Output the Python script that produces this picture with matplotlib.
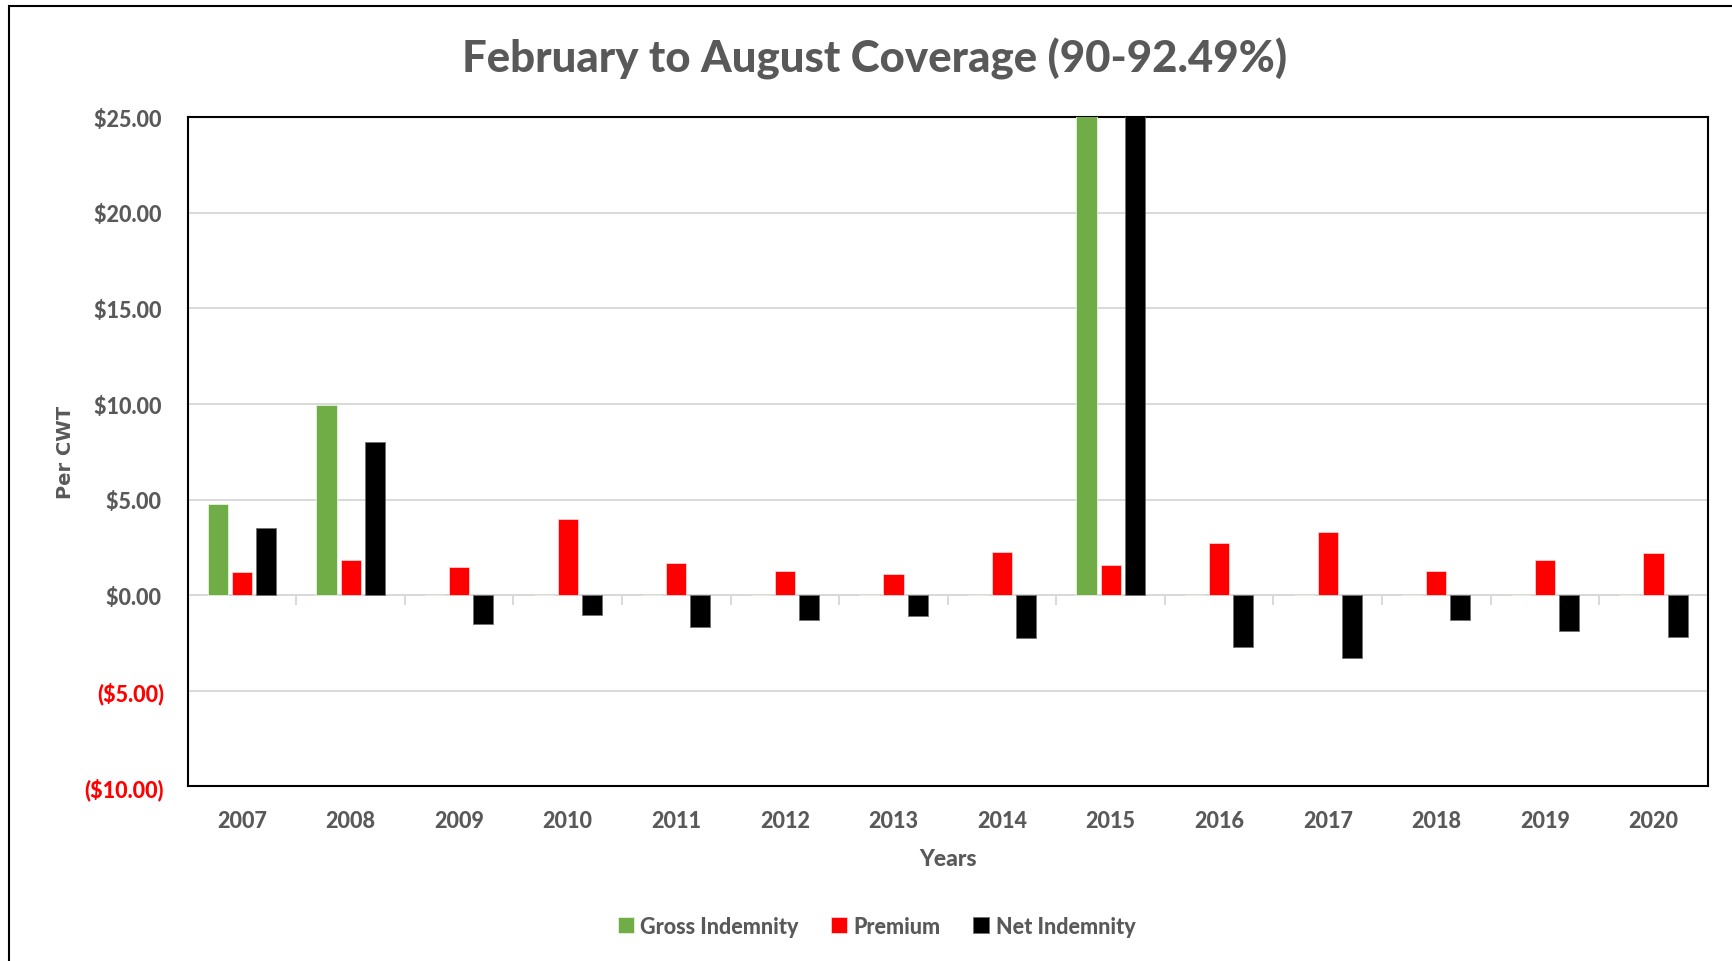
import numpy as np
import matplotlib.pyplot as plt
from matplotlib.patches import Rectangle

years = ["2007", "2008", "2009", "2010", "2011", "2012", "2013",
         "2014", "2015", "2016", "2017", "2018", "2019", "2020"]
gross = [4.79, 9.93, 0, 0, 0, 0, 0, 0, 27.30, 0, 0, 0, 0, 0]
premium = [1.21, 1.85, 1.50, 3.98, 1.67, 1.27, 1.10, 2.25, 1.60, 2.71, 3.29, 1.27, 1.85, 2.19]
net = [3.52, 8.03, -1.50, -1.04, -1.67, -1.27, -1.10, -2.25, 25.70, -2.71, -3.29, -1.27, -1.85, -2.19]
yticks = [-10, -5, 0, 5, 10, 15, 20, 25]

grey = "#595959"
bold = 900
plt.rcParams['font.family'] = ['Lato', 'DejaVu Sans']

fig = plt.figure(figsize=(17.32, 9.62), dpi=100)
ax = fig.add_axes([0.1084, 0.1814, 0.8776, 0.6958])

x = np.arange(len(years))
w = 0.185
off = 0.222
ax.bar(x - off, gross, w, color="#70AD47", edgecolor="#E8F2E0", linewidth=0.6, label="Gross Indemnity", zorder=3)
ax.bar(x, premium, w, color="#FF0000", edgecolor="#FFD0D0", linewidth=0.6, label="Premium", zorder=3)
ax.bar(x + off, net, w, color="#000000", edgecolor="#707070", linewidth=0.6, label="Net Indemnity", zorder=3)

ax.set_xlim(-0.5, len(years) - 0.5)
ax.set_ylim(-10, 25)
ax.set_yticks(yticks)
# accounting style: positives leave room for the closing bracket
ax.set_yticklabels(["($%.2f)" % -v if v < 0 else "$%.2f\u2009" % v for v in yticks])
for lab, v in zip(ax.get_yticklabels(), yticks):
    lab.set_color("#FF0000" if v < 0 else grey)
    lab.set_fontweight(bold)
    lab.set_fontsize(15.5)
ax.set_xticks(x)
ax.set_xticklabels(years, fontsize=15.5, fontweight=bold, color=grey)
ax.tick_params(axis="x", length=0, pad=17)
ax.tick_params(axis="y", length=0, pad=17)
ax.grid(axis="y", color="#D9D9D9", linewidth=1.4, zorder=0)
for s in ax.spines.values():
    s.set_color("black")
    s.set_linewidth(1.5)

# category axis at zero with boundary ticks
zero_pos = (0 - (-10)) / 35.0
sec = ax.secondary_xaxis(zero_pos)
sec.set_xticks(np.arange(len(years) + 1) - 0.5)
sec.set_xticklabels([])
sec.tick_params(axis="x", color="#D9D9D9", length=7, width=1.4, direction="out")
sec.spines["bottom"].set_color("#D9D9D9")
sec.spines["bottom"].set_linewidth(1.4)

ax.set_xlabel("Years", fontsize=16.5, fontweight=bold, color=grey, labelpad=12)
ax.set_ylabel("Per CWT", fontsize=14, fontweight="bold", color=grey,
              family=["DejaVu Sans"], labelpad=7)

fig.text(0.505, 0.939, "February to August Coverage (90-92.49%)", ha="center", va="center",
         fontsize=31.5, fontweight=bold, color=grey)

fig.legend(loc="center", bbox_to_anchor=(0.506, 0.036), ncol=3, frameon=False,
           handlelength=0.75, handleheight=0.75, handletextpad=0.3,
           columnspacing=1.5, labelcolor=grey, prop={"weight": bold, "size": 15.5})

fig.patches.append(Rectangle((0.005, -0.5), 1.5, 1.493, transform=fig.transFigure,
                             fill=False, edgecolor="black", linewidth=1.5))

fig.savefig("out.png", dpi=100)
